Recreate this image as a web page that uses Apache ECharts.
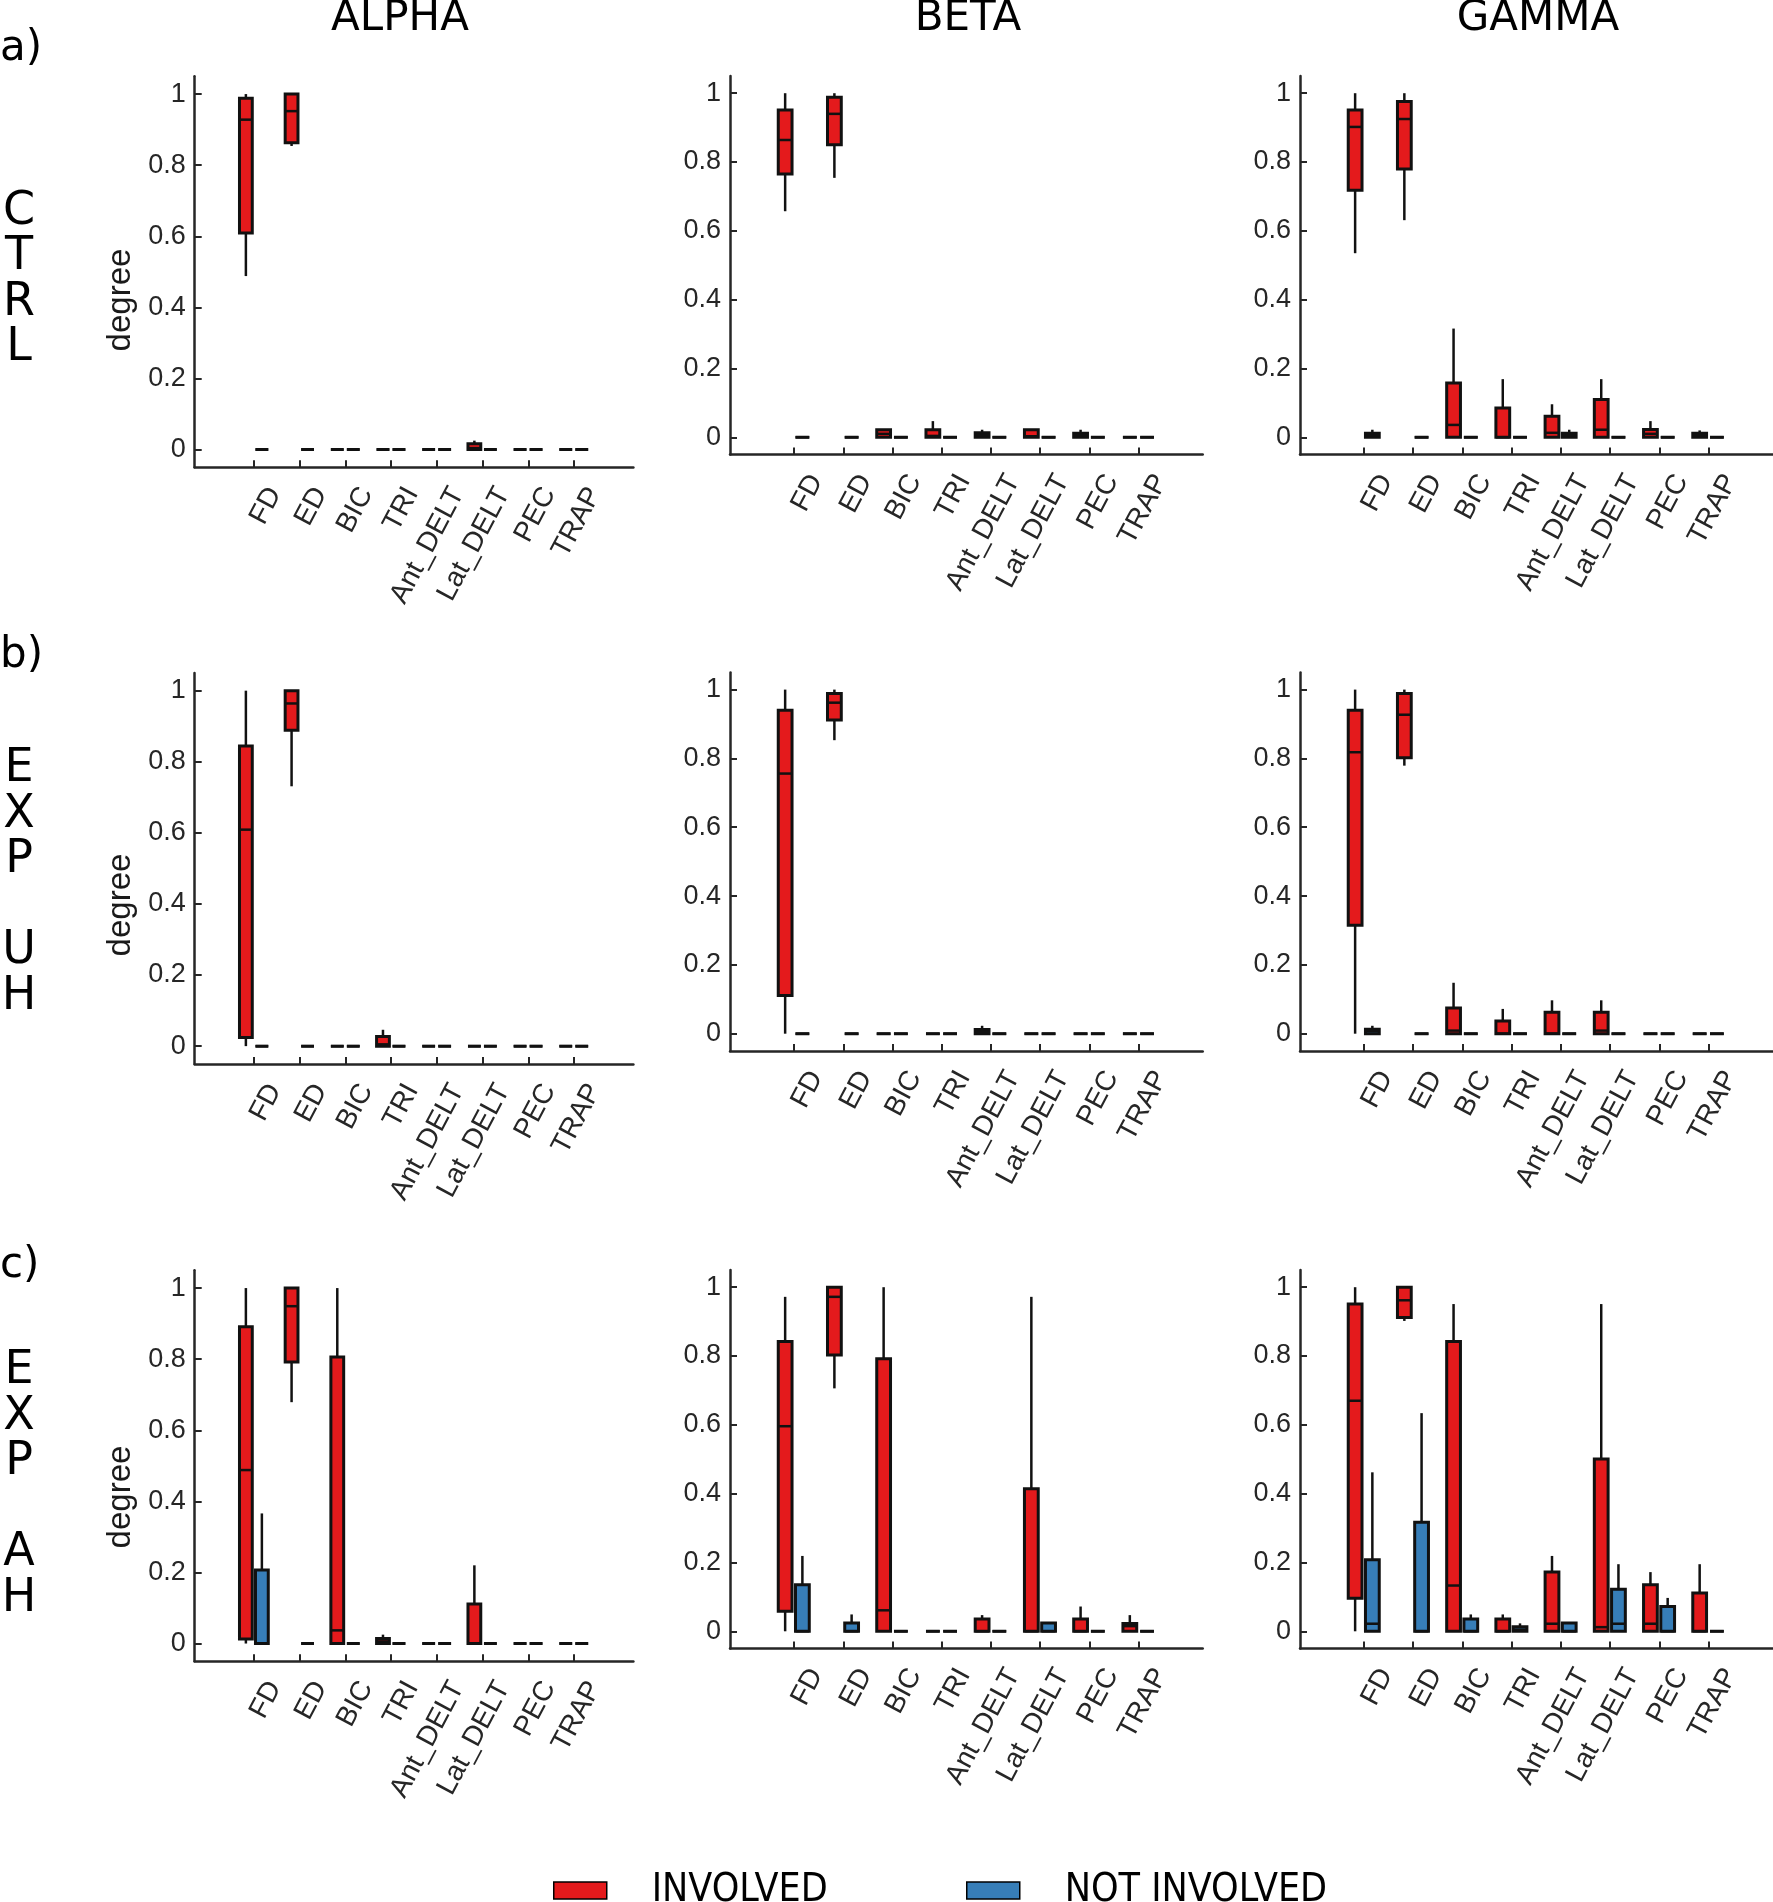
<!DOCTYPE html>
<html>
<head>
<meta charset="utf-8">
<script src="https://cdn.jsdelivr.net/npm/echarts@6.0.0/dist/echarts.min.js"></script>
<style>
  body { margin: 0; background: #fff; }
  #main { width: 1773px; height: 1902px; }
</style>
</head>
<body>
<div id="main"></div>
<script>
// categories and panel names
const muscles = ['FD', 'ED', 'BIC', 'TRI', 'Ant_DELT', 'Lat_DELT', 'PEC', 'TRAP']
const bands = ['ALPHA', 'BETA', 'GAMMA']
const rowTags = ['a)', 'b)', 'c)']
const rowLetters = ['C\nT\nR\nL', 'E\nX\nP\n\nU\nH', 'E\nX\nP\n\nA\nH']
const yTicks = [0, 0.2, 0.4, 0.6, 0.8, 1]

// each box: [min, q1, median, q3, max], one per muscle
// row a) CTRL
const ctrlAlphaIn = [
	[0.488, 0.609, 0.928, 0.988, 1.0],
	[0.854, 0.863, 0.952, 1.0, 1.0],
	[0, 0, 0, 0, 0], [0, 0, 0, 0, 0], [0, 0, 0, 0, 0],
	[0, 0, 0.004, 0.016, 0.025],
	[0, 0, 0, 0, 0], [0, 0, 0, 0, 0],
]
const ctrlAlphaOut = [
	[0, 0, 0, 0, 0], [0, 0, 0, 0, 0], [0, 0, 0, 0, 0], [0, 0, 0, 0, 0],
	[0, 0, 0, 0, 0], [0, 0, 0, 0, 0], [0, 0, 0, 0, 0], [0, 0, 0, 0, 0],
]
const ctrlBetaIn = [
	[0.657, 0.765, 0.864, 0.951, 1.0],
	[0.754, 0.850, 0.940, 0.988, 1.0],
	[0, 0, 0.010, 0.022, 0.022],
	[0, 0, 0.004, 0.022, 0.047],
	[0, 0, 0.007, 0.013, 0.022],
	[0, 0, 0.003, 0.022, 0.022],
	[0, 0, 0.007, 0.012, 0.022],
	[0, 0, 0, 0, 0],
]
const ctrlBetaOut = [
	[0, 0, 0, 0, 0], [0, 0, 0, 0, 0], [0, 0, 0, 0, 0], [0, 0, 0, 0, 0],
	[0, 0, 0, 0, 0], [0, 0, 0, 0, 0], [0, 0, 0, 0, 0], [0, 0, 0, 0, 0],
]
const ctrlGammaIn = [
	[0.535, 0.718, 0.902, 0.951, 1.0],
	[0.631, 0.780, 0.925, 0.976, 1.0],
	[0, 0, 0.036, 0.158, 0.316],
	[0, 0, 0, 0.085, 0.169],
	[0, 0, 0.013, 0.061, 0.096],
	[0, 0, 0.022, 0.110, 0.169],
	[0, 0, 0.010, 0.023, 0.047],
	[0, 0, 0.007, 0.012, 0.020],
]
const ctrlGammaOut = [
	[0, 0, 0.006, 0.012, 0.022],
	[0, 0, 0, 0, 0], [0, 0, 0, 0, 0], [0, 0, 0, 0, 0],
	[0, 0, 0.006, 0.012, 0.022],
	[0, 0, 0, 0, 0], [0, 0, 0, 0, 0], [0, 0, 0, 0, 0],
]
// row b) EXP UH
const uhAlphaIn = [
	[0, 0.024, 0.609, 0.844, 1.0],
	[0.731, 0.889, 0.964, 1.0, 1.0],
	[0, 0, 0, 0, 0],
	[0, 0, 0.005, 0.027, 0.046],
	[0, 0, 0, 0, 0], [0, 0, 0, 0, 0], [0, 0, 0, 0, 0], [0, 0, 0, 0, 0],
]
const uhAlphaOut = [
	[0, 0, 0, 0, 0], [0, 0, 0, 0, 0], [0, 0, 0, 0, 0], [0, 0, 0, 0, 0],
	[0, 0, 0, 0, 0], [0, 0, 0, 0, 0], [0, 0, 0, 0, 0], [0, 0, 0, 0, 0],
]
const uhBetaIn = [
	[0, 0.111, 0.756, 0.940, 1.0],
	[0.853, 0.912, 0.962, 0.989, 1.0],
	[0, 0, 0, 0, 0], [0, 0, 0, 0, 0],
	[0, 0, 0.005, 0.012, 0.023],
	[0, 0, 0, 0, 0], [0, 0, 0, 0, 0], [0, 0, 0, 0, 0],
]
const uhBetaOut = [
	[0, 0, 0, 0, 0], [0, 0, 0, 0, 0], [0, 0, 0, 0, 0], [0, 0, 0, 0, 0],
	[0, 0, 0, 0, 0], [0, 0, 0, 0, 0], [0, 0, 0, 0, 0], [0, 0, 0, 0, 0],
]
const uhGammaIn = [
	[0, 0.315, 0.818, 0.940, 1.0],
	[0.779, 0.802, 0.927, 0.989, 1.0],
	[0, 0, 0.009, 0.075, 0.148],
	[0, 0, 0, 0.037, 0.072],
	[0, 0, 0, 0.062, 0.097],
	[0, 0, 0.009, 0.062, 0.097],
	[0, 0, 0, 0, 0], [0, 0, 0, 0, 0],
]
const uhGammaOut = [
	[0, 0, 0.007, 0.013, 0.023],
	[0, 0, 0, 0, 0], [0, 0, 0, 0, 0], [0, 0, 0, 0, 0],
	[0, 0, 0, 0, 0], [0, 0, 0, 0, 0], [0, 0, 0, 0, 0], [0, 0, 0, 0, 0],
]
// row c) EXP AH
const ahAlphaIn = [
	[0, 0.013, 0.488, 0.891, 1.0],
	[0.679, 0.792, 0.949, 1.0, 1.0],
	[0, 0, 0.037, 0.806, 1.0],
	[0, 0, 0.006, 0.014, 0.025],
	[0, 0, 0, 0, 0],
	[0, 0, 0, 0.111, 0.220],
	[0, 0, 0, 0, 0], [0, 0, 0, 0, 0],
]
const ahAlphaOut = [
	[0, 0, 0, 0.207, 0.366],
	[0, 0, 0, 0, 0], [0, 0, 0, 0, 0], [0, 0, 0, 0, 0],
	[0, 0, 0, 0, 0], [0, 0, 0, 0, 0], [0, 0, 0, 0, 0], [0, 0, 0, 0, 0],
]
const ahBetaIn = [
	[0, 0.058, 0.596, 0.842, 0.972],
	[0.706, 0.803, 0.972, 1.0, 1.0],
	[0, 0, 0.061, 0.792, 1.0],
	[0, 0, 0, 0, 0],
	[0, 0, 0, 0.036, 0.047],
	[0, 0, 0, 0.414, 0.972],
	[0, 0, 0, 0.036, 0.072],
	[0, 0, 0.015, 0.023, 0.047],
]
const ahBetaOut = [
	[0, 0, 0, 0.135, 0.219],
	[0, 0, 0, 0.024, 0.049],
	[0, 0, 0, 0, 0], [0, 0, 0, 0, 0], [0, 0, 0, 0, 0],
	[0, 0, 0, 0.024, 0.024],
	[0, 0, 0, 0, 0], [0, 0, 0, 0, 0],
]
const ahGammaIn = [
	[0, 0.096, 0.670, 0.951, 1.0],
	[0.902, 0.912, 0.962, 1.0, 1.0],
	[0, 0, 0.133, 0.842, 0.951],
	[0, 0, 0, 0.036, 0.049],
	[0, 0, 0.022, 0.172, 0.219],
	[0, 0, 0.012, 0.501, 0.951],
	[0, 0, 0.022, 0.135, 0.172],
	[0, 0, 0, 0.111, 0.195],
]
const ahGammaOut = [
	[0, 0, 0.022, 0.208, 0.462],
	[0, 0, 0, 0.317, 0.634],
	[0, 0, 0, 0.036, 0.049],
	[0, 0, 0.005, 0.013, 0.023],
	[0, 0, 0, 0.024, 0.024],
	[0, 0, 0.022, 0.122, 0.195],
	[0, 0, 0, 0.072, 0.097],
	[0, 0, 0, 0, 0],
]

// panels in row-major order: [involved, not involved]
const panels = [
	[ctrlAlphaIn, ctrlAlphaOut], [ctrlBetaIn, ctrlBetaOut], [ctrlGammaIn, ctrlGammaOut],
	[uhAlphaIn, uhAlphaOut], [uhBetaIn, uhBetaOut], [uhGammaIn, uhGammaOut],
	[ahAlphaIn, ahAlphaOut], [ahBetaIn, ahBetaOut], [ahGammaIn, ahGammaOut],
]

// layout (px)
const colLeft = [194.7, 730, 1300]
const colWidth = [438.7, 472.7, 472.5]
const colHeight = [391, 378.5, 378.5]
const rowTop = [[76.3, 76, 76], [672.9, 672.4, 672.4], [1270.3, 1270, 1270]]
const RED = '#E41A1C'
const BLUE = '#377EB8'
const INK = '#111'
const AXIS = '#262626'
const LABEL_SHIFT = 0.45
const BOX_W = 0.28
const tickFont = "'Liberation Sans', Arial, sans-serif"
const textFont = "'DejaVu Sans', Verdana, sans-serif"

function boxRenderer(offset) {
	return function (params, api) {
		const x = api.value(0) + offset
		const lo = api.coord([x, api.value(1)])
		const q1 = api.coord([x, api.value(2)])
		const md = api.coord([x, api.value(3)])
		const q3 = api.coord([x, api.value(4)])
		const hi = api.coord([x, api.value(5)])
		const w = api.size([BOX_W, 0])[0]
		const cx = lo[0]
		return {
			type: 'group',
			children: [
				{ type: 'line', shape: { x1: cx, y1: hi[1], x2: cx, y2: q3[1] }, style: { stroke: INK, lineWidth: 2.5 } },
				{ type: 'line', shape: { x1: cx, y1: q1[1], x2: cx, y2: lo[1] }, style: { stroke: INK, lineWidth: 2.5 } },
				{ type: 'rect', shape: { x: cx - w / 2, y: q3[1], width: w, height: q1[1] - q3[1] },
					style: { fill: api.visual('color'), stroke: INK, lineWidth: 3 } },
				{ type: 'line', shape: { x1: cx - w / 2, y1: md[1], x2: cx + w / 2, y2: md[1] }, style: { stroke: INK, lineWidth: 2.5 } },
			],
		}
	}
}

const grids = []
const xAxes = []
const yAxes = []
const series = []

panels.forEach(([inv, notInv], g) => {
	const r = Math.floor(g / 3)
	const c = g % 3
	grids.push({ left: colLeft[c], top: rowTop[r][c], width: colWidth[c], height: colHeight[c], containLabel: false })
	xAxes.push({
		type: 'value', gridIndex: g, min: -1.3, max: 8.3,
		axisLine: { show: true, onZero: false, lineStyle: { color: AXIS, width: 2.5 } },
		axisTick: { show: true, inside: true, length: 7, customValues: muscles.map((m, i) => i), lineStyle: { color: AXIS, width: 2 } },
		axisLabel: {
			customValues: muscles.map((m, i) => i + LABEL_SHIFT),
			formatter: v => muscles[Math.round(v - LABEL_SHIFT)],
			rotate: 62, margin: 22, fontSize: 28, fontFamily: tickFont, color: AXIS,
		},
		splitLine: { show: false },
	})
	yAxes.push({
		type: 'value', gridIndex: g, min: -0.05, max: 1.05,
		axisLine: { show: true, onZero: false, lineStyle: { color: AXIS, width: 2.5 } },
		axisTick: { show: true, inside: true, length: 7, customValues: yTicks, lineStyle: { color: AXIS, width: 2 } },
		axisLabel: { customValues: yTicks, margin: 9, fontSize: 27, fontFamily: tickFont, color: AXIS },
		splitLine: { show: false },
	})
	series.push({
		type: 'custom', name: 'INVOLVED', xAxisIndex: g, yAxisIndex: g,
		itemStyle: { color: RED }, renderItem: boxRenderer(-0.18),
		encode: { x: 0, y: [1, 2, 3, 4, 5] },
		data: inv.map((b, i) => [i].concat(b)),
	})
	series.push({
		type: 'custom', name: 'NOT INVOLVED', xAxisIndex: g, yAxisIndex: g,
		itemStyle: { color: BLUE }, renderItem: boxRenderer(0.17),
		encode: { x: 0, y: [1, 2, 3, 4, 5] },
		data: notInv.map((b, i) => [i].concat(b)),
	})
})

// texts around the panels
const titleX = [400, 968, 1538]
const tagY = [49, 656, 1266]
const letterTop = [189, 746.5, 1348.5]
const degreeY = [300, 905, 1497]
const graphics = []
bands.forEach((b, i) => {
	graphics.push({ type: 'text', x: titleX[i], y: 19,
		style: { text: b, font: '42px ' + textFont, fill: '#000', align: 'center', verticalAlign: 'middle', textAlign: 'center', textVerticalAlign: 'middle' } })
})
rowTags.forEach((t, r) => {
	graphics.push({ type: 'text', x: 0, y: tagY[r],
		style: { text: t, font: '42px ' + textFont, fill: '#000', align: 'left', verticalAlign: 'middle', textAlign: 'left', textVerticalAlign: 'middle' } })
	graphics.push({ type: 'text', x: 19, y: letterTop[r],
		style: { text: rowLetters[r], font: '46px ' + textFont, lineHeight: 45.5, fill: '#000', align: 'center', verticalAlign: 'top', textAlign: 'center', textVerticalAlign: 'top' } })
	graphics.push({ type: 'text', x: 121, y: degreeY[r], rotation: Math.PI / 2,
		style: { text: 'degree', font: '33px ' + tickFont, fill: '#1a1a1a', align: 'center', verticalAlign: 'middle', textAlign: 'center', textVerticalAlign: 'middle' } })
})

const legendBase = {
	top: 1871, padding: 0, icon: 'rect', itemWidth: 53, itemHeight: 17, selectedMode: false,
	itemStyle: { borderColor: '#000', borderWidth: 1.5 },
	textStyle: { fontSize: 39, fontFamily: "'Liberation Sans Narrow', 'DejaVu Sans Condensed', sans-serif", color: '#000', padding: [0, 0, 0, 40] },
}

const option = {
	animation: false,
	backgroundColor: '#fff',
	grid: grids,
	xAxis: xAxes,
	yAxis: yAxes,
	series,
	legend: [
		Object.assign({}, legendBase, { left: 553, data: ['INVOLVED'] }),
		Object.assign({}, legendBase, { left: 966, data: ['NOT INVOLVED'] }),
	],
	graphic: graphics,
}

const chart = echarts.init(document.getElementById('main'), null, { renderer: 'canvas' })
chart.setOption(option)
</script>
</body>
</html>
